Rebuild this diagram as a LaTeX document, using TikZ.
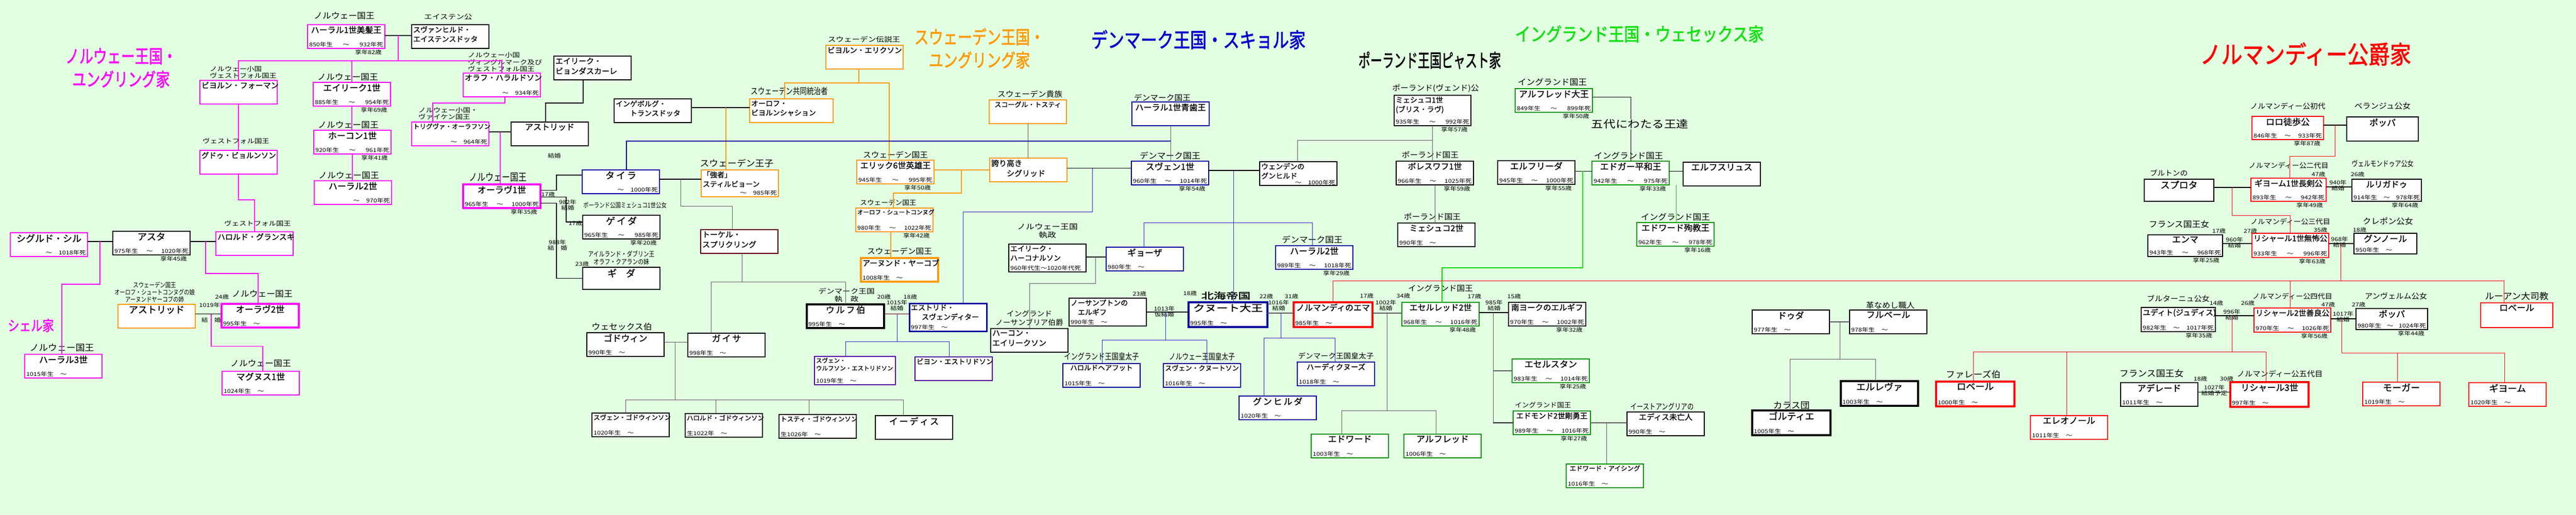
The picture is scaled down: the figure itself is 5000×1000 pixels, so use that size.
\documentclass[tikz,border=0pt]{standalone}
\usepackage{fontspec}
\usepackage{graphicx}
\usepackage{tikz}
\usetikzlibrary{
    positioning,
    calc
}
\setmainfont{Noto Sans CJK JP}
\newfontfamily\namef[FakeBold=1.2]{Noto Sans CJK JP}
\newfontfamily\datef[FakeStretch=1.2]{Noto Sans CJK JP}
\newfontfamily\lblf[FakeStretch=1.05]{Noto Sans CJK JP}
\newfontfamily\cndf[FakeStretch=0.8]{Noto Sans CJK JP}
\newfontfamily\titf[FakeBold=2]{Noto Sans CJK JP}

\definecolor{bgc}{RGB}{226,255,226}
\definecolor{nmag}{RGB}{255,0,255}
\definecolor{sorange}{RGB}{255,153,0}
\definecolor{dblue}{RGB}{0,0,160}
\definecolor{dthin}{RGB}{40,40,190}
\definecolor{egreen}{RGB}{0,150,0}
\definecolor{bgreen}{RGB}{0,220,0}
\definecolor{nred}{RGB}{255,0,0}
\definecolor{purp}{RGB}{80,0,160}
\definecolor{brnc}{RGB}{90,0,0}
\definecolor{lngray}{RGB}{90,90,90}
\definecolor{tgreen}{RGB}{20,225,20}
\definecolor{tblue}{RGB}{0,0,205}

\newcommand\boxw{150}
\newcommand\boxh{46}
% 人物の箱: 名前と生没年
\newcommand\who[3][16]{%
  \parbox[c][\dimexpr\boxh pt-6pt\relax][s]{\dimexpr\boxw pt-6pt\relax}{%
    \namef\fontsize{#1}{\fpeval{1.3*#1}}\selectfont\centering #2\par
    \vfill
    \datef\fontsize{10.5}{12}\selectfont\raggedright #3\par}}

\tikzset{
    bx/.style={draw, fill=white, line width=1.5pt, anchor=north west, inner sep=0pt, outer sep=0pt, minimum width=150pt, minimum height=46pt},
    bw/.style={minimum width=#1pt, /utils/exec={\def\boxw{#1}}},
    bh/.style={minimum height=#1pt, /utils/exec={\def\boxh{#1}}},
    nor/.style={bx, draw=nmag},
    swe/.style={bx, draw=sorange},
    den/.style={bx, draw=dblue},
    eng/.style={bx, draw=egreen},
    nmd/.style={bx, draw=nred},
    oth/.style={bx, draw=black},
    pur/.style={bx, draw=purp},
    brn/.style={bx, draw=brnc},
    thk/.style={line width=3.5pt},
    lb/.style={inner sep=0pt, align=center, font=\lblf\fontsize{#1}{\fpeval{1.2*#1}}\selectfont},
    lb/.default=15,
    cn/.style={inner sep=0pt, align=center, font=\cndf\fontsize{#1}{\fpeval{1.1*#1}}\selectfont},
    cn/.default=14,
    sm/.style={inner sep=0pt, align=center, font=\datef\fontsize{#1}{\fpeval{1.12*#1}}\selectfont},
    sm/.default=10.5,
    age/.style={sm, anchor=north east},
    ttl/.style={inner sep=0pt, align=center, font=\titf\fontsize{#1}{\fpeval{1.25*#1}}\selectfont},
    mar/.style={draw=black, line width=1.6pt},
    marl/.style={draw=black, line width=0.9pt},
    nl/.style={draw=nmag, line width=1.5pt},
    sl/.style={draw=sorange, line width=1.2pt},
    dl/.style={draw=dblue, line width=2pt},
    dtl/.style={draw=dthin, line width=0.9pt},
    gl/.style={draw=lngray, line width=0.9pt},
    el/.style={draw=egreen!80, line width=0.9pt},
    bgl/.style={draw=bgreen, line width=1.2pt},
    rl/.style={draw=nred, line width=1pt}
}

\begin{document}
\begin{tikzpicture}[x=1pt, y=-1pt]
        \useasboundingbox (0,0) rectangle (5000,1000);
        \fill[bgc] (0,0) rectangle (5000,1000);

        % 家名
        \node[ttl=36, text=nmag] (tnor) at (235,132) {\scalebox{.75}[1]{ノルウェー王国・}\\\scalebox{.75}[1]{ユングリング家}};
        \node[ttl=28, text=nmag] (tshel) at (60,632) {\scalebox{.8}[1]{シェル家}};
        \node[ttl=36, text=sorange] (tswe) at (1901,94) {\scalebox{.78}[1]{スウェーデン王国・}\\\scalebox{.78}[1]{ユングリング家}};
        \node[ttl=40, text=tblue] (tden) at (2326,77) {\scalebox{.8}[1]{デンマーク王国・スキョル家}};
        \node[ttl=36] (tpol) at (2775,117) {\scalebox{.64}[1]{ポーランド王国ピャスト家}};
        \node[ttl=36, text=tgreen] (teng) at (3182,66) {\scalebox{.84}[1]{イングランド王国・ウェセックス家}};
        \node[ttl=48, text=nred] (tnmd) at (4475,105) {\scalebox{.86}[1]{ノルマンディー公爵家}};

        % ノルウェー王国
        \node[nor] (haraldI) at (597,48) {\who{ハーラル1世美髪王}{850年生\hfill～\hfill932年死}};
        \node[oth] (svanh) at (799,48) {\who[14]{\raggedright スヴァンヒルド・\\エイステンスドッタ}{}};
        \node[nor] (bjorn) at (388,156) {\who[15]{ビヨルン・フォーマン}{}};
        \node[nor] (eirik1) at (608,160) {\who[17]{エイリーク1世}{885年生\hfill～\hfill954年死}};
        \node[nor] (haakon1) at (609,253) {\who[17]{ホーコン1世}{920年生\hfill～\hfill961年死}};
        \node[nor] (harald2n) at (610,351) {\who[17]{ハーラル2世}{\hfill～　970年死}};
        \node[nor] (olafh) at (899,142) {\who[15]{オラフ・ハラルドソン}{\hfill～　934年死}};
        \node[nor] (gudrod) at (388,292) {\who[14.5]{グドゥ・ビョルンソン}{}};
        \node[nor] (tryggvi) at (799,237) {\who[12.5]{トリグヴァ・オーラフソン}{\hfill～　964年死}};
        \node[oth] (astridA) at (992,237) {\who{アストリッド}{}};
        \node[oth] (eirikB) at (1075,109) {\who[15]{\raggedright エイリーク・\\ビョンダスカーレ}{}};
        \node[nor, thk] (olaf1) at (899,358) {\who[17]{オーラヴ1世}{965年生\hfill～\hfill1000年死}};
        \node[nor] (harg) at (419,450) {\who[15]{ハロルド・グランスキ}{}};
        \node[nor] (sigurd) at (20,452) {\who[18]{シグルド・シル}{\hfill～　1018年死}};
        \node[oth, line width=2.2pt] (asta) at (219,449) {\who[18]{アスタ}{975年生\hfill～\hfill1020年死}};
        \node[swe] (astridS) at (229,591) {\who[18]{アストリッド}{}};
        \node[nor, thk] (olaf2) at (430,590) {\who[17]{オーラヴ2世}{995年生　～}};
        \node[nor] (magnus) at (431,721) {\who[17]{マグヌス1世}{1024年生　～}};
        \node[nor] (harald3) at (48,688) {\who[17]{ハーラル3世}{1015年生　～}};

        % スウェーデン・デンマーク
        \node[den] (thyra) at (1130,330) {\who[18]{タ\,イ\,ラ}{\hfill～　1000年死}};
        \node[oth] (geida) at (1131,418) {\who[18]{ゲ\,イ\,ダ}{965年生\hfill～\hfill985年死}};
        \node[oth, bh=43] (gyda) at (1131,519) {\who[18]{ギ　ダ}{}};
        \node[swe, bh=52] (styr) at (1361,330) {\who[14]{\raggedright 「強者」\\スティルビョーン}{\hfill～　985年死}};
        \node[oth] (ingeb) at (1192,192) {\who[14]{\raggedright インゲボルグ・\\\hspace*{2em}トランスドッタ}{}};
        \node[swe, bw=162] (olofB) at (1455,192) {\who[14]{\raggedright オーロフ・\\ビヨルンシャション}{}};
        \node[brn] (thorkel) at (1360,446) {\who[15]{\raggedright トーケル・\\スプリクリング}{}};
        \node[swe] (bjornE) at (1603,88) {\who[14.5]{ビヨルン・エリクソン}{}};
        \node[oth] (godwin) at (1139,646) {\who[17]{ゴドウィン}{990年生　～}};
        \node[oth] (gytha) at (1335,647) {\who[17]{ガ\,イ\,サ}{998年生　～}};
        \node[oth] (sweynG) at (1149,802) {\who[12.5]{スヴェン・ゴドウィンソン}{1020年生　～}};
        \node[oth] (haroldG) at (1330,803) {\who[12.5]{ハロルド・ゴドウィンソン}{生1022年　～}};
        \node[oth] (tostig) at (1512,805) {\who[12.5]{トスティ・ゴドウィンソン}{生1026年　～}};
        \node[oth] (edith) at (1699,807) {\who[17]{イ\,ー\,デ\,ィ\,ス}{}};
        \node[oth, line width=4pt] (ulf) at (1566,591) {\who[17]{ウ\,ル\,フ\,伯}{995年生　～}};
        \node[den, line width=3pt, bh=54] (estrid) at (1765,589) {\who[14]{\raggedright エストリド・\\\hspace*{1.5em}スヴェンディター}{997年生　～}};
        \node[pur, bw=157, bh=55] (sweynU) at (1581,692) {\who[11.5]{\raggedright スヴェン・\\ウルフソン・エストリドソン}{1019年生　～}};
        \node[pur] (bjornU) at (1776,693) {\who[13.5]{ビヨン・エストリドソン}{}};
        \node[swe] (erik6) at (1663,311) {\who[16]{エリック6世英雄王}{945年生\hfill～\hfill995年死}};
        \node[swe] (sigrid) at (1921,307) {\who[15]{\raggedright 誇り高き\\\hspace*{2em}シグリッド}{}};
        \node[swe] (skog) at (1920,194) {\who[13]{スコーグル・トスティ}{}};
        \node[swe] (olofS) at (1661,404) {\who[11.5]{オーロフ・シュートコンヌグ}{980年生\hfill～\hfill1022年死}};
        \node[swe, line width=4pt] (anund) at (1671,501) {\who[15]{アーヌンド・ヤーコブ}{1008年生　～}};
        \node[den] (bluetooth) at (2197,198) {\who[16]{ハーラル1世青歯王}{}};
        \node[den] (sweyn1) at (2196,313) {\who[17]{スヴェン1世}{960年生\hfill～\hfill1014年死}};
        \node[oth] (gunhild) at (2445,314) {\who[14]{\raggedright ウェンデンの\\グンヒルド}{\hfill～　1000年死}};
        \node[oth, bh=54] (eirikH) at (1958,474) {\who[14]{\raggedright エイリーク・\\ハーコナルソン}{960年代生～1020年代死}};
        \node[den] (gytha2) at (2147,480) {\who[17]{ギョーザ}{980年生　～}};
        \node[oth] (haakonE) at (1923,638) {\who[15]{\raggedright ハーコン・\\エイリークソン}{}};
        \node[oth, bh=54] (aelfN) at (2075,579) {\who[14]{\raggedright ノーサンプトンの\\\hspace*{1em}エルギフ}{990年生　～}};
        \node[den, thk, bw=153, bh=48] (cnut) at (2307,587) {\who[18]{\scalebox{1.25}[1]{クヌート大王}}{995年生　～}};
        \node[den] (harold1) at (2063,706) {\who[13.5]{ハロルドヘアフット}{1015年生　～}};
        \node[den] (sweynK) at (2258,706) {\who[13]{スヴェン・クヌートソン}{1016年生　～}};
        \node[den] (gunhilda) at (2405,769) {\who[17]{グ\,ン\,ヒ\,ル\,ダ}{1020年生　～}};
        \node[den] (harthac) at (2518,703) {\who[14.5]{ハーディクヌーズ}{1018年生　～}};
        \node[den] (harald2d) at (2476,477) {\who[17]{ハーラル2世}{989年生\hfill～\hfill1018年死}};

        % ポーランド
        \node[oth, bw=149, bh=59] (mieszko1) at (2706,185) {\who[14]{\raggedright ミェシュコ1世\\(ブリス・ラヴ)}{935年生\hfill～\hfill992年死}};
        \node[oth] (boleslaw) at (2710,313) {\who[16]{ボレスワフ1世}{966年生\hfill～\hfill1025年死}};
        \node[oth] (mieszko2) at (2713,433) {\who[16]{ミェシュコ2世}{990年生　～}};

        % イングランド
        \node[eng] (alfred) at (2941,172) {\who[17]{アルフレッド大王}{849年生\hfill～\hfill899年死}};
        \node[oth] (aelfrida) at (2907,312) {\who[17]{エルフリーダ}{945年生\hfill～\hfill1000年死}};
        \node[eng] (edgar) at (3090,313) {\who[17]{エドガー平和王}{942年生\hfill～\hfill975年死}};
        \node[oth] (aelfth) at (3267,315) {\who[17]{エルフスリュス}{}};
        \node[eng] (edwardM) at (3177,432) {\who[16.5]{エドワード殉教王}{962年生\hfill～\hfill978年死}};
        \node[nmd, thk, bw=153, bh=48] (emma) at (2511,587) {\who[16]{ノルマンディのエマ}{985年生　～}};
        \node[eng] (aethelred) at (2721,587) {\who[16]{エセルレッド2世}{968年生\hfill～\hfill1016年死}};
        \node[oth] (aelfY) at (2928,587) {\who[15.5]{南ヨークのエルギフ}{970年生\hfill～\hfill1002年死}};
        \node[eng] (edwardE) at (2545,843) {\who[17]{エドワード}{1003年生　～}};
        \node[eng] (alfredE) at (2725,843) {\who[17]{アルフレッド}{1006年生　～}};
        \node[eng] (athelstan) at (2935,697) {\who[17]{エセルスタン}{983年生\hfill～\hfill1014年死}};
        \node[eng] (edmund) at (2937,798) {\who[14.5]{エドモンド2世剛勇王}{989年生\hfill～\hfill1016年死}};
        \node[oth] (edithW) at (3158,800) {\who[15]{エディス未亡人}{990年生　～}};
        \node[eng] (edwardX) at (3040,901) {\who[12.5]{エドワード・アイシング}{1016年生　～}};

        % ノルマンディー
        \node[oth] (dudda) at (3401,602) {\who[17]{ドゥダ}{977年生　～}};
        \node[oth] (fulbert) at (3590,602) {\who[17]{フルベール}{978年生　～}};
        \node[oth, line width=4.5pt, bh=48] (herleva) at (3573,740) {\who[18]{エルレヴァ}{1003年生　～}};
        \node[oth, line width=4.5pt, bw=152, bh=48] (gaultier) at (3401,797) {\who[18]{ゴルティエ}{1005年生　～}};
        \node[nmd, line width=3.5pt, bw=152, bh=48] (robertF) at (3758,741) {\who[18]{ロベール}{1000年生　～}};
        \node[nmd] (eleanor) at (3941,807) {\who[17]{エレオノール}{1011年生　～}};
        \node[oth] (adelaide) at (4116,743) {\who[17]{アデレード}{1011年生　～}};
        \node[nmd, line width=4.5pt, bw=152, bh=48] (richard3) at (4329,742) {\who[17]{リシャール3世}{997年生　～}};
        \node[nmd, bw=139, bh=45] (rollo) at (4371,226) {\who[17]{ロロ徒歩公}{846年生\hfill～\hfill933年死}};
        \node[oth, bw=139, bh=47] (poppa1) at (4555,227) {\who[17]{ポッパ}{}};
        \node[oth, bw=135, bh=43] (sprota) at (4162,348) {\who[18]{スプロタ}{}};
        \node[nmd, bw=146, bh=45] (william1) at (4369,346) {\who[15.5]{ギヨーム1世長剣公}{893年生\hfill～\hfill942年死}};
        \node[oth, bw=135, bh=43] (luitgarde) at (4565,348) {\who[16]{ルリガドゥ}{914年生\hfill～\hfill978年死}};
        \node[oth, bw=145, bh=42] (emma2) at (4169,456) {\who[17]{エンマ}{943年生\hfill～\hfill968年死}};
        \node[nmd, bw=149, bh=47] (richard1) at (4371,453) {\who[15]{リシャール1世無怖公}{933年生\hfill～\hfill996年死}};
        \node[oth, bw=122, bh=40] (gunnor) at (4569,453) {\who[17]{グンノール}{950年生　～}};
        \node[oth, bw=144, bh=47] (judith) at (4156,597) {\who[15]{ユディト(ジュディス)}{982年生\hfill～\hfill1017年死}};
        \node[nmd, bw=149, bh=47] (richard2) at (4375,598) {\who[15]{リシャール2世善良公}{970年生\hfill～\hfill1026年死}};
        \node[oth, bw=139, bh=41] (poppa2) at (4573,599) {\who[17]{ポッパ}{980年生\hfill～\hfill1024年死}};
        \node[nmd, bw=140, bh=48] (robertA) at (4815,588) {\who[17]{ロベール}{}};
        \node[nmd] (mauger) at (4586,742) {\who[18]{モーガー}{1019年生　～}};
        \node[nmd] (william) at (4792,743) {\who[18]{ギヨーム}{1020年生　～}};

        % 肩書き
        \node[lb=16, above=10pt of haraldI, xshift=-4pt] (haraldI-t) {ノルウェー国王};
        \node[sm=13, above=9pt of svanh, xshift=-4pt] (svanh-t) {エイステン公};
        \node[sm=12, align=left, above right=3pt and 19pt of bjorn.north west] (bjorn-t) {ノルウェー小国\\ヴェストフォル国王};
        \node[lb=16, above=3pt of eirik1, xshift=-8pt] (eirik1-t) {ノルウェー国王};
        \node[lb=16, above=3pt of haakon1, xshift=-8pt] (haakon1-t) {ノルウェー国王};
        \node[lb=16, above=3pt of harald2n, xshift=-8pt] (harald2n-t) {ノルウェー国王};
        \node[sm=12, align=left, above right=2pt and 9pt of olafh.north west] (olafh-t) {ノルウェー小国\\ヴィングルマーク及び\\ヴェストフォル国王};
        \node[sm=12, above=12pt of gudrod, xshift=-5pt] (gudrod-t) {ヴェストフォル国王};
        \node[sm=12, align=left, above right=4pt and 13pt of tryggvi.north west] (tryggvi-t) {ノルウェー小国・\\ヴァイケン国王};
        \node[cn=20, above=5pt of olaf1, xshift=-8pt] (olaf1-t) {ノルウェー国王};
        \node[sm=12, above=10pt of harg, xshift=6pt] (harg-t) {ヴェストフォル国王};
        \node[cn=13, above=3pt of astridS, xshift=-4pt] (astridS-t) {スウェーデン国王\\オーロフ・シュートコンヌグの娘\\アーヌンドヤーコブの姉};
        \node[lb=16, above=12pt of olaf2, xshift=4pt] (olaf2-t) {ノルウェー国王};
        \node[lb=16, above=8pt of magnus] (magnus-t) {ノルウェー国王};
        \node[lb=17, above=5pt of harald3, xshift=-3pt] (harald3-t) {ノルウェー国王};
        \node[cn=13, above=13pt of geida, xshift=7pt] (geida-t) {ポーランド公国ミェシュコ1世公女};
        \node[cn=13.5, above=4pt of gyda] (gyda-t) {アイルランド・ダブリン王\\オラフ・クアランの妹};
        \node[lb=17, above=5pt of styr, xshift=-6pt] (styr-t) {スウェーデン王子};
        \node[cn=17, above=7pt of olofB, xshift=-4pt] (olofB-t) {スウェーデン共同統治者};
        \node[sm=13, above=5pt of bjornE, xshift=-1pt] (bjornE-t) {スウェーデン伝説王};
        \node[lb=16, above=4pt of godwin, xshift=-7pt] (godwin-t) {ウェセックス伯};
        \node[sm=13, above=4pt of ulf, xshift=2pt] (ulf-t) {デンマーク王国\\執　政};
        \node[lb, above=3pt of erik6] (erik6-t) {スウェーデン国王};
        \node[lb, above=4pt of skog, xshift=4pt] (skog-t) {スウェーデン貴族};
        \node[lb=13, above=4pt of olofS, xshift=-12pt] (olofS-t) {スウェーデン国王};
        \node[lb, above=6pt of anund] (anund-t) {スウェーデン国王};
        \node[lb, above=1pt of bluetooth, xshift=-16pt] (bluetooth-t) {デンマーク国王};
        \node[lb=16, above=3pt of sweyn1] (sweyn1-t) {デンマーク国王};
        \node[sm=14, above=11pt of eirikH] (eirikH-t) {ノルウェー王国\\執政};
        \node[lb=14, above=5pt of haakonE] (haakonE-t) {イングランド\\ノーサンブリア伯爵};
        \node[font=\titf\fontsize{17}{17}\selectfont, inner sep=0pt, above=5pt of cnut, xshift=-4pt] (cnut-t) {\scalebox{1.4}[1]{北海帝国}};
        \node[cn=16.5, above=6pt of harold1] (harold1-t) {イングランド王国皇太子};
        \node[cn=16, above=6pt of sweynK] (sweynK-t) {ノルウェー王国皇太子};
        \node[lb=14, above=5pt of harthac] (harthac-t) {デンマーク王国皇太子};
        \node[lb=16, above=4pt of harald2d, xshift=-4pt] (harald2d-t) {デンマーク国王};
        \node[lb, above=5pt of mieszko1, xshift=6pt] (mieszko1-t) {ポーランド(ヴェンド)公};
        \node[lb, above=5pt of boleslaw, xshift=-9pt] (boleslaw-t) {ポーランド国王};
        \node[lb, above=5pt of mieszko2, xshift=-8pt] (mieszko2-t) {ポーランド国王};
        \node[lb=16, above=5pt of alfred, xshift=-3pt] (alfred-t) {イングランド国王};
        \node[lb=16, above=3pt of edgar, xshift=-4pt] (edgar-t) {イングランド国王};
        \node[lb=16, above=3pt of edwardM] (edwardM-t) {イングランド国王};
        \node[lb, above=20pt of aethelred] (aethelred-t) {イングランド国王};
        \node[lb=13, above=5pt of edmund, xshift=-17pt] (edmund-t) {イングランド国王};
        \node[cn=15.5, above=3pt of edithW, xshift=-7pt] (edithW-t) {イーストアングリアの};
        \node[lb, above=2pt of fulbert, xshift=4pt] (fulbert-t) {革なめし職人};
        \node[lb=17, above=2pt of gaultier] (gaultier-t) {カラス団};
        \node[lb=17, above=6pt of robertF, xshift=-4pt] (robertF-t) {ファレーズ伯};
        \node[lb=17, above=10pt of adelaide, xshift=-15pt] (adelaide-t) {フランス国王女};
        \node[lb=14.5, above=9pt of richard3, xshift=20pt] (richard3-t) {ノルマンディー公五代目};
        \node[lb=14, above=13pt of rollo] (rollo-t) {ノルマンディー公初代};
        \node[lb, above=14pt of poppa1] (poppa1-t) {ベランジュ公女};
        \node[lb=14, above=6pt of sprota, xshift=-20pt] (sprota-t) {ブルトンの};
        \node[lb=13.5, above=18pt of william1] (william1-t) {ノルマンディー公二代目};
        \node[cn=15, above=23pt of luitgarde, xshift=-8pt] (luitgarde-t) {ヴェルモンドゥア公女};
        \node[lb=16, above=13pt of emma2, xshift=-12pt] (emma2-t) {フランス国王女};
        \node[lb=13.5, above=16pt of richard1] (richard1-t) {ノルマンディー公三代目};
        \node[lb=15.5, above=16pt of gunnor, xshift=5pt] (gunnor-t) {クレポン公女};
        \node[lb=14.5, above=10pt of judith] (judith-t) {ブルターニュ公女};
        \node[lb=13.5, above=16pt of richard2] (richard2-t) {ノルマンディー公四代目};
        \node[lb=14.5, above=17pt of poppa2, xshift=8pt] (poppa2-t) {アンヴェルム公女};
        \node[lb=17, above=5pt of robertA] (robertA-t) {ルーアン大司教};

        % 享年
        \foreach \nd/\ag in {haraldI/82, eirik1/69, haakon1/41, olaf1/35, asta/45, geida/20, erik6/50, olofS/42, sweyn1/54, harald2d/29, mieszko1/57, boleslaw/59, alfred/50, aelfrida/55, edgar/33, edwardM/16, aethelred/48, aelfY/32, athelstan/25, edmund/27, rollo/87, william1/49, luitgarde/64, emma2/25, richard1/63, judith/35, richard2/56, poppa2/44} {
            \node[age] (\nd-a) at ([xshift=-6pt,yshift=-2pt]\nd.south east) {享年\ag 歳};
        }

        % 結婚の年と年齢
        \foreach \x/\y/\tx [count=\i] in {1064/378/17歳, 1102/398/982年\\結婚, 1117/434/17歳, 1082/476/988年\\結　婚, 1130/513/23歳, 1076/303/結婚,
            431/577/24歳, 407/592/1019年, 410/622/結　婚, 1716/577/20歳, 1767/577/18歳, 1741/593/1015年\\結婚,
            2212/571/23歳, 2310/570/18歳, 2260/605/1013年\\仮結婚, 2458/576/22歳, 2507/576/31歳, 2482/593/1016年\\結婚,
            2653/575/17歳, 2724/575/34歳, 2690/593/1002年\\結婚, 2862/576/17歳, 2939/576/15歳, 2900/593/985年\\結婚,
            4500/339/47歳, 4576/339/26歳, 4538/360/940年\\結婚, 4307/449/17歳, 4368/449/27歳, 4337/471/960年\\結婚,
            4504/447/35歳, 4580/447/18歳, 4541/470/968年\\結婚, 4302/589/14歳, 4363/589/26歳, 4332/611/996年\\結婚,
            4519/592/47歳, 4578/592/27歳, 4548/615/1017年\\結婚, 4271/736/18歳, 4322/736/30歳, 4298/758/1027年\\結婚予定} {
            \node[sm] (m\i) at (\x,\y) {\tx};
        }

        % ノルウェーの線
        \draw[mar] ([yshift=2pt]haraldI.east) -- ([yshift=2pt]haraldI.east -| svanh.west);
        \coordinate (hs) at (773,69);
        \draw[nl] (hs) -- ++(0,49) coordinate (r1);
        \foreach \k in {bjorn,eirik1,olafh} {
            \draw[nl] (r1) -| (\k.north);
        }
        \draw[nl] (bjorn.south) -- (gudrod.north);
        \draw[nl] (gudrod.south) -- ++(0,50) -| (harg.north);
        \draw[nl] (eirik1.south) -- (eirik1.south |- haakon1.north);
        \draw[nl] (haakon1.south) -- (haakon1.south |- harald2n.north);
        \draw[nl] ([xshift=6pt]olafh.south) -- ++(0,12) -| ([xshift=-34pt]tryggvi.north);
        \draw[mar] ([yshift=4pt]tryggvi.east) -- ([yshift=4pt]tryggvi.east -| astridA.west);
        \draw[mar] ([xshift=-18pt]eirikB.south) -- ++(0,45) -| ([xshift=-8pt]astridA.north);
        \coordinate (ta) at (971,256);
        \draw[nl] (ta) -- (ta |- olaf1.north);
        \draw[mar] ([yshift=11.5pt]olaf1.east) -- ++(31,0) |- ([yshift=13pt]thyra.west);
        \draw[mar] ([yshift=-1.5pt]olaf1.east) -- ++(50,0) |- ([yshift=10pt]geida.west);
        \draw[mar] ([yshift=-13.5pt]olaf1.east) -- ++(31,0) |- (gyda.west);
        \draw[mar] ([yshift=6pt]sigurd.east) -- ([yshift=6pt]sigurd.east -| asta.west);
        \draw[mar] ([yshift=3pt]asta.east) -- ([yshift=3pt]asta.east -| harg.west);
        \coordinate (sa) at (194,469);
        \draw[nl] (sa) -- ++(0,83) -| ([xshift=-3pt]harald3.north);
        \coordinate (ah) at (399,469);
        \draw[nl] (ah) -- ++(0,62) -| ([xshift=-4pt]olaf2.north);
        \draw[mar] ([yshift=4.5pt]astridS.east) -- ([yshift=4.5pt]astridS.east -| olaf2.west);
        \coordinate (ao) at (410,609.5);
        \draw[nl] (ao) -- ++(0,63) -| ([xshift=4pt]magnus.north);

        % スウェーデン・デンマークの線
        \draw[mar] ([yshift=5pt]thyra.east) -- ([yshift=5pt]thyra.east -| styr.west);
        \coordinate (ts) at (1321,348);
        \draw[gl] (ts) -- ++(0,52) -| ([xshift=-14pt]thorkel.north);
        \draw[mar] ([yshift=6pt]ingeb.east) -- ([yshift=6pt]ingeb.east -| olofB.west);
        \coordinate (io) at (1409,209);
        \draw[sl] (io) -- (io |- styr.north);
        \draw[sl] ([xshift=-11pt]bjornE.south) -- ++(0,27) coordinate (r2);
        \draw[sl] (r2) -| ([xshift=-13pt]olofB.north);
        \draw[sl] (r2) -| ([xshift=-12pt]erik6.north);
        \draw[gl] ([xshift=5pt]thorkel.south) -- ++(0,55) coordinate (r3);
        \draw[gl] (r3) -| ([xshift=-30pt]gytha.north);
        \draw[gl] (r3) -| (ulf.north);
        \draw[gl] ([yshift=5pt]godwin.east) -- ([yshift=5pt]godwin.east -| gytha.west);
        \coordinate (gg) at (1310,664);
        \draw[gl] (gg) -- ++(0,112) coordinate (r4);
        \foreach \k/\s in {sweynG/-10, haroldG/-16, tostig/-17, edith/-21} {
            \draw[gl] (r4) -| ([xshift=\s pt]\k.north);
        }
        \draw[draw=brnc, line width=1pt] ([yshift=4.5pt]ulf.east) -- ([yshift=4.5pt]ulf.east -| estrid.west);
        \coordinate (ue) at (1741,609.5);
        \draw[dtl] (ue) -- ++(0,54) coordinate (r5);
        \draw[dtl] (r5) -| ([xshift=-18pt]sweynU.north);
        \draw[dtl] (r5) -| ([xshift=-9pt]bjornU.north);
        \draw[sl] (erik6.east |- sigrid.west) -- (sigrid.west);
        \coordinate (es) at (1866,330);
        \draw[sl] (es) -- ++(0,45) -| ([xshift=-2pt]olofS.north);
        \draw[sl] ([xshift=-7pt]olofS.south) -- ([xshift=-7pt]olofS.south |- anund.north);
        \draw[gl] (skog.south) -- (skog.south |- sigrid.north);
        \draw[mar] ([yshift=3.5pt]sigrid.east) -- ([yshift=3.5pt]sigrid.east -| sweyn1.west);
        \coordinate (ss) at (2120,326.5);
        \draw[dtl] (ss) -- ++(0,85) -| ([xshift=29pt]estrid.north);
        \draw[gl] (bluetooth.south) -- (bluetooth.south |- sweyn1.north);
        \coordinate (r6) at (2272,274);
        \draw[dl] (r6) -| ([xshift=11pt]thyra.north);
        \draw[mar] ([yshift=5pt]sweyn1.east) -- ([yshift=5pt]sweyn1.east -| gunhild.west);
        \coordinate (sg) at (2394,331);
        \draw[dtl] (sg) -- (sg |- cnut.north);
        \coordinate (r7) at (2394,432);
        \draw[dtl] (r7) -| ([xshift=-2pt]gytha2.north);
        \draw[dtl] (r7) -| ([xshift=-4pt]harald2d.north);
        \draw[gl] (mieszko1.south) -- (mieszko1.south |- boleslaw.north);
        \coordinate (r8) at (2780,272);
        \draw[gl] (r8) -| ([xshift=-2pt]gunhild.north);
        \draw[gl] (boleslaw.south) -- (boleslaw.south |- mieszko2.north);
        \draw[mar] ([yshift=2pt]eirikH.east) -- ([yshift=2pt]eirikH.east -| gytha2.west);
        \coordinate (eg) at (2126,499);
        \draw[gl] (eg) -- ++(0,51) -| (haakonE.north);
        \draw[mar] (aelfN.east) -- (aelfN.east -| cnut.west);
        \coordinate (ec) at (2262,606);
        \draw[dtl] (ec) -- ++(0,54) coordinate (r9);
        \draw[dtl] (r9) -| ([xshift=1pt]harold1.north);
        \draw[dtl] (r9) -| ([xshift=9pt]sweynK.north);
        \draw[gl, line width=1.4pt] ([yshift=3pt]cnut.east) -- ([yshift=3pt]cnut.east -| emma.west);
        \coordinate (ce) at (2486,608);
        \draw[dtl] (ce) -- ++(0,48) coordinate (r10);
        \draw[dtl] (r10) -| ([xshift=-27pt]gunhilda.north);
        \draw[dtl] (r10) -| ([xshift=-2pt]harthac.north);

        % イングランドの線
        \draw[gl, line width=1.4pt] ([yshift=3pt]emma.east) -- ([yshift=3pt]emma.east -| aethelred.west);
        \coordinate (ea) at (2692,608);
        \draw[gl] (ea) -- ++(0,189) coordinate (r11);
        \draw[gl] (r11) -| ([xshift=-16pt]edwardE.north);
        \draw[gl] (r11) -| ([xshift=-13pt]alfredE.north);
        \draw[mar] ([yshift=3pt]aethelred.east) -- ([yshift=3pt]aethelred.east -| aelfY.west);
        \coordinate (ay) at (2898,607);
        \draw[gl] (ay) -- (ay |- edmund.west);
        \draw[gl, line width=2pt] (ay |- athelstan.west) -- (athelstan.west);
        \draw[mar] (ay |- edmund.west) -- (edmund.west);
        \draw[gl, line width=1.4pt] (edmund.east) -- (edmund.east -| edithW.west);
        \coordinate (ew) at (3118,821);
        \draw[gl] (ew) -- (ew |- edwardX.north);
        \draw[marl] ([yshift=7pt]alfred.east) -| (edgar.north);
        \draw[marl] ([yshift=3pt]aelfrida.east) -- ([yshift=3pt]aelfrida.east -| edgar.west);
        \draw[marl] ([yshift=4pt]edgar.east) -- ([yshift=4pt]edgar.east -| aelfth.west);
        \coordinate (ef) at (3253,332);
        \draw[el] (ef |- edgar.south) -- (ef |- edwardM.north);
        \coordinate (ae) at (3072,332);
        \draw[bgl] (ae) -- ++(0,188) -| ([xshift=3pt]aethelred.north);

        % ノルマンディーの線
        \draw[mar] ([yshift=5.5pt]rollo.east) -- ([yshift=5.5pt]rollo.east -| poppa1.west);
        \coordinate (rp) at (4532,243);
        \draw[rl] (rp) -- ++(0,61) -| ([xshift=2pt]william1.north);
        \draw[mar] ([yshift=5.5pt]sprota.east) -- ([yshift=5.5pt]sprota.east -| william1.west);
        \coordinate (sw) at (4332,364);
        \draw[rl] (sw) -- ++(0,54) -| (richard1.north);
        \draw[mar] ([yshift=5.5pt]william1.east) -- ([yshift=5.5pt]william1.east -| luitgarde.west);
        \draw[mar] ([yshift=4pt]emma2.east) -- ([yshift=4pt]emma2.east -| richard1.west);
        \draw[mar] ([yshift=3.5pt]richard1.east) -- ([yshift=3.5pt]richard1.east -| gunnor.west);
        \coordinate (rg) at (4543,473);
        \draw[rl] (rg) -- ++(0,72) coordinate (r12);
        \foreach \k/\s in {emma/0, richard2/-4.5, robertA/-25} {
            \draw[rl] (r12) -| ([xshift=\s pt]\k.north);
        }
        \draw[mar] ([yshift=7.5pt]judith.east) -- ([yshift=7.5pt]judith.east -| richard2.west);
        \coordinate (jr) at (4332,613);
        \draw[rl] (jr) -- ++(0,70) coordinate (r13);
        \foreach \k/\s in {robertF/-4, eleanor/-5, richard3/-7} {
            \draw[rl] (r13) -| ([xshift=\s pt]\k.north);
        }
        \draw[mar] ([yshift=2.5pt]richard2.east) -- ([yshift=2.5pt]richard2.east -| poppa2.west);
        \coordinate (rq) at (4545,619);
        \draw[rl] (rq) -- ++(0,66) coordinate (r14);
        \foreach \k/\s in {mauger/-8, william/-6} {
            \draw[rl] (r14) -| ([xshift=\s pt]\k.north);
        }
        \draw[mar] ([yshift=4.5pt]adelaide.east) -- ([yshift=4.5pt]adelaide.east -| richard3.west);
        \draw[gl, line width=2pt] (dudda.east) -- (dudda.east -| fulbert.west);
        \coordinate (df) at (3571,625);
        \draw[gl] (df) -- ++(0,72) coordinate (r15);
        \draw[gl] (r15) -| ([xshift=-3pt]gaultier.north);
        \draw[gl] (r15) -| ([xshift=-8pt]herleva.north);

        % 線の上の文字
        \node[font=\lblf\fontsize{20}{20}\selectfont, fill=bgc, inner sep=1pt] (five) at (3183,241) {\scalebox{1.12}[1]{五代にわたる王達}};
\end{tikzpicture}
\end{document}
